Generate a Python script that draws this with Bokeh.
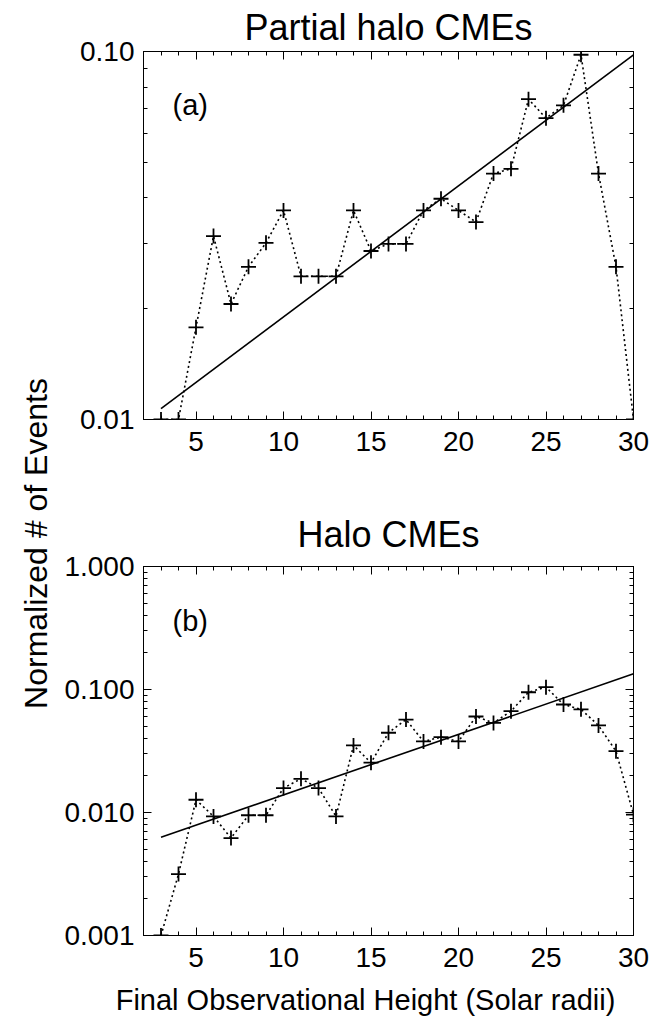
import numpy as np
from math import pi
from bokeh.plotting import figure
from bokeh.layouts import row, column
from bokeh.models import (Range1d, FixedTicker, SingleIntervalTicker, LinearAxis,
                          LogAxis, Label, PrintfTickFormatter, ColumnDataSource)
from bokeh.embed import file_html
from bokeh.resources import INLINE

FONT = "Liberation Sans"

# Final observational height (solar radii)
height_rs = list(range(3, 31))

# Normalized number of events per height bin
partial_halo = [0.0100, 0.0100, 0.0178, 0.0315, 0.0206, 0.0260, 0.0302, 0.0370,
                0.0245, 0.0245, 0.0245, 0.0370, 0.0287, 0.0300, 0.0300, 0.0370,
                0.0398, 0.0370, 0.0344, 0.0466, 0.0480, 0.0742, 0.0659, 0.0714,
                0.0980, 0.0466, 0.0260, 0.0100]
halo = [0.0010, 0.00316, 0.0127, 0.0093, 0.0062, 0.0095, 0.0095, 0.0158,
        0.0188, 0.0158, 0.0093, 0.0351, 0.0254, 0.0445, 0.0570, 0.0378,
        0.0410, 0.0378, 0.0603, 0.0535, 0.0667, 0.0950, 0.1045, 0.0755,
        0.0690, 0.0510, 0.0315, 0.0096]

# Exponential fits: log10(N) = intercept + slope * h
fit_partial = {"intercept": -2.0775, "slope": 0.03562}
fit_halo = {"intercept": -2.3482, "slope": 0.04918}
fit_span = [3, 30]

# Axis ticks
y_major_a = [0.01, 0.1]
y_minor_a = [0.02, 0.03, 0.04, 0.05, 0.06, 0.07, 0.08, 0.09]
y_major_b = [0.001, 0.01, 0.1, 1.0]
y_minor_b = [m * d for d in (0.001, 0.01, 0.1) for m in range(2, 10)]

FRAME_H = 369


def tick_style(ax):
    ax.axis_line_color = "black"
    ax.axis_line_width = 1
    ax.major_tick_in = 8
    ax.major_tick_out = 0
    ax.minor_tick_in = 4
    ax.minor_tick_out = 0
    ax.major_tick_line_color = "black"
    ax.minor_tick_line_color = "black"
    ax.major_tick_line_width = 1
    ax.minor_tick_line_width = 1


def hide_labels(ax):
    ax.major_label_text_color = None
    ax.major_label_text_font_size = "1px"
    ax.major_label_standoff = 0


def text_strip(width, height, text, x, y, size, angle=0.0, align="center"):
    """A bare canvas holding a single piece of text."""
    f = figure(width=width, height=height, output_backend="svg",
               toolbar_location=None, min_border=0,
               x_axis_location=None, y_axis_location=None)
    f.grid.visible = False
    f.outline_line_color = None
    f.add_layout(Label(x=x, y=y, x_units="screen", y_units="screen",
                       text=text, angle=angle, text_font=FONT,
                       text_font_size=size, text_align=align,
                       text_baseline="alphabetic", text_color="black"))
    return f


def panel(values, fit, ylo, yhi, y_major, y_minor, fmt, title, tag,
          border_top, border_bottom, title_gap):
    p = figure(width=602, height=border_top + FRAME_H + border_bottom,
               x_range=Range1d(2, 30), y_range=Range1d(ylo, yhi),
               y_axis_type="log", output_backend="svg", toolbar_location=None,
               min_border_left=95, min_border_right=17,
               min_border_top=border_top, min_border_bottom=border_bottom)
    p.grid.visible = False
    p.outline_line_color = "black"
    p.outline_line_width = 1
    p.background_fill_color = "white"
    p.border_fill_color = "white"

    p.title.text = title
    p.title.text_font = FONT
    p.title.text_font_size = "36px"
    p.title.text_font_style = "normal"
    p.title.text_color = "black"
    p.title.align = "center"
    p.title.standoff = title_gap

    xt = SingleIntervalTicker(interval=5, num_minor_ticks=5)
    yt = FixedTicker(ticks=y_major, minor_ticks=y_minor)

    bx = p.xaxis[0]
    bx.ticker = xt
    tick_style(bx)
    bx.major_label_text_font = FONT
    bx.major_label_text_font_size = "28px"
    bx.major_label_text_color = "black"
    bx.major_label_standoff = 12

    ly = p.yaxis[0]
    ly.ticker = yt
    ly.formatter = PrintfTickFormatter(format=fmt)
    tick_style(ly)
    ly.major_label_text_font = FONT
    ly.major_label_text_font_size = "28px"
    ly.major_label_text_color = "black"
    ly.major_label_standoff = 9

    top = LinearAxis(ticker=xt)
    tick_style(top)
    hide_labels(top)
    p.add_layout(top, "above")
    right = LogAxis(ticker=yt)
    tick_style(right)
    hide_labels(right)
    p.add_layout(right, "right")

    src = ColumnDataSource(dict(h=height_rs, n=values))
    p.line("h", "n", source=src, line_color="black", line_width=1.6,
           line_dash="2 3")
    p.scatter("h", "n", source=src, marker="cross", size=15,
              line_color="black", line_width=1.8)

    hf = np.array(fit_span, dtype=float)
    p.line(hf, 10 ** (fit["intercept"] + fit["slope"] * hf),
           line_color="black", line_width=1.6)

    p.add_layout(Label(x=29, y=315, x_units="screen", y_units="screen",
                       text=tag, text_font=FONT, text_font_size="29px",
                       text_baseline="alphabetic", text_color="black"))
    return p


p_a = panel(partial_halo, fit_partial, 0.01, 0.1, y_major_a, y_minor_a,
            "%.2f", "Partial halo CMEs", "(a)", 50, 71, 8)
p_b = panel(halo, fit_halo, 0.001, 1.0, y_major_b, y_minor_b,
            "%.3f", "Halo CMEs", "(b)", 76, 46, 24)

# Shared vertical axis title
ylab = text_strip(48, 981, "Normalized # of Events", 35, 438, "32px",
                  angle=pi / 2)

# Shared horizontal axis title
xlab = text_strip(650, 38, "Final Observational Height (Solar radii)",
                  365, 20, "29px")

layout = column(row(ylab, column(p_a, p_b, spacing=0), spacing=0), xlab,
                spacing=0)

open("out.html", "w").write(file_html(layout, INLINE))
